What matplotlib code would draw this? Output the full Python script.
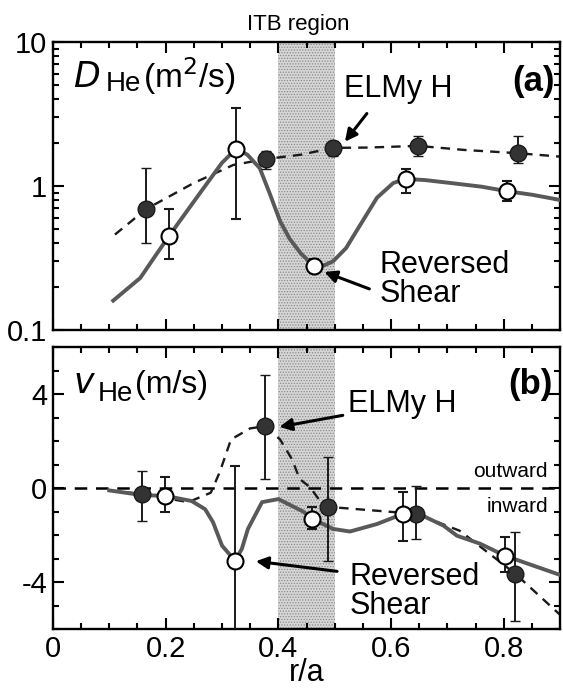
import matplotlib
matplotlib.use("Agg")
import matplotlib.pyplot as plt
from matplotlib.ticker import MultipleLocator, LogLocator, NullFormatter

plt.rcParams['font.family'] = ['Liberation Sans', 'DejaVu Sans']
plt.rcParams['hatch.linewidth'] = 0.6

# --- panel (a): D_He ---
d_rs_r = [0.206, 0.325, 0.463, 0.626, 0.806]
d_rs_v = [0.45, 1.81, 0.278, 1.12, 0.92]
d_rs_lo = [0.31, 0.59, 0.25, 0.89, 0.79]
d_rs_hi = [0.69, 3.48, 0.31, 1.31, 1.08]

d_el_r = [0.165, 0.378, 0.497, 0.648, 0.825]
d_el_v = [0.69, 1.54, 1.84, 1.90, 1.69]
d_el_lo = [0.40, 1.31, 1.62, 1.62, 1.44]
d_el_hi = [1.33, 1.75, 2.05, 2.22, 2.22]

d_rs_line_r = [0.107, 0.155, 0.18, 0.206, 0.255, 0.30, 0.325, 0.345, 0.367, 0.385,
               0.403, 0.42, 0.44, 0.463, 0.48, 0.497, 0.52, 0.539, 0.575, 0.604,
               0.626, 0.66, 0.705, 0.76, 0.806, 0.85, 0.9]
d_rs_line_v = [0.16, 0.23, 0.32, 0.45, 0.83, 1.45, 1.81, 1.65, 1.33, 0.88,
               0.57, 0.43, 0.34, 0.278, 0.28, 0.30, 0.37, 0.49, 0.83, 1.05,
               1.12, 1.10, 1.05, 0.99, 0.92, 0.87, 0.80]
d_el_line_r = [0.11, 0.165, 0.25, 0.32, 0.378, 0.44, 0.497, 0.56, 0.648, 0.73, 0.825, 0.9]
d_el_line_v = [0.46, 0.69, 1.05, 1.40, 1.54, 1.65, 1.84, 1.85, 1.90, 1.78, 1.69, 1.60]

# --- panel (b): v_He ---
v_rs_r = [0.199, 0.323, 0.46, 0.621, 0.802]
v_rs_v = [-0.33, -3.09, -1.31, -1.10, -2.88]
v_rs_lo = [-1.0, -7.5, -1.74, -2.25, -3.56]
v_rs_hi = [0.47, 0.93, -0.8, -0.17, -2.08]

v_el_r = [0.158, 0.376, 0.488, 0.645, 0.82]
v_el_v = [-0.25, 2.63, -0.80, -1.10, -3.64]
v_el_lo = [-1.4, 0.38, -3.1, -2.16, -5.68]
v_el_hi = [0.72, 4.83, 1.31, 0.08, -1.86]

v_rs_line_r = [0.10, 0.158, 0.199, 0.246, 0.27, 0.284, 0.30, 0.323, 0.335, 0.346,
               0.371, 0.40, 0.444, 0.46, 0.497, 0.527, 0.575, 0.621, 0.645, 0.693,
               0.717, 0.758, 0.802, 0.9]
v_rs_line_v = [-0.1, -0.3, -0.33, -0.55, -0.9, -1.45, -2.45, -3.09, -2.6, -1.74,
               -0.6, -0.47, -1.0, -1.31, -1.74, -1.85, -1.53, -1.10, -1.05, -1.6,
               -2.03, -2.37, -2.88, -3.7]
v_el_line_r = [0.10, 0.158, 0.24, 0.28, 0.296, 0.316, 0.35, 0.376, 0.403, 0.424,
               0.438, 0.456, 0.474, 0.488, 0.593, 0.645, 0.722, 0.82, 0.9]
v_el_line_v = [-0.1, -0.25, -0.6, -0.2, 0.68, 2.07, 2.54, 2.63, 2.07, 1.23,
               0.38, 0.04, -0.55, -0.80, -1.0, -1.1, -1.82, -3.64, -5.4]

itb = (0.4, 0.5)

fig = plt.figure(figsize=(5.63, 6.91), dpi=100)
ax1 = fig.add_axes([0.094, 0.5224, 0.901, 0.4168])
ax2 = fig.add_axes([0.094, 0.0897, 0.901, 0.408])


def style(ax):
    for s in ax.spines.values():
        s.set_linewidth(1.7)
    ax.tick_params(which='both', direction='in', top=True, right=True, width=1.5,
                   labelsize=21, pad=4)
    ax.tick_params(which='major', length=8)
    ax.tick_params(which='minor', length=4.5)
    ax.set_xlim(0, 0.9)
    ax.xaxis.set_major_locator(MultipleLocator(0.2))
    ax.xaxis.set_minor_locator(MultipleLocator(0.05))
    ax.axvspan(itb[0], itb[1], facecolor='#d6d6d6', edgecolor='#8a8a8a',
               hatch='......', lw=0, zorder=0)


def err(v, lo, hi):
    return [[a - b for a, b in zip(v, lo)], [b - a for a, b in zip(v, hi)]]


arrow = dict(arrowstyle='-|>', color='black', lw=2.2, mutation_scale=18)

# panel a
style(ax1)
ax1.set_yscale('log')
ax1.set_ylim(0.1, 10)
ax1.yaxis.set_minor_locator(LogLocator(base=10, subs=range(2, 10), numticks=20))
ax1.yaxis.set_minor_formatter(NullFormatter())
ax1.set_yticks([0.1, 1, 10])
ax1.set_yticklabels(['0.1', '1', '10'])
ax1.tick_params(axis='x', labelbottom=False)

ax1.plot(d_el_line_r, d_el_line_v, ls=(0, (4, 3)), color='0.1', lw=1.7, zorder=2)
ax1.plot(d_rs_line_r, d_rs_line_v, ls='-', color='0.35', lw=2.8, zorder=3)
ax1.errorbar(d_el_r, d_el_v, yerr=err(d_el_v, d_el_lo, d_el_hi), fmt='o', ms=12,
             mfc='0.2', mec='0.1', ecolor='0.1', elinewidth=1.4, capsize=3.5, zorder=4)
ax1.errorbar(d_rs_r, d_rs_v, yerr=err(d_rs_v, d_rs_lo, d_rs_hi), fmt='o', ms=11.5,
             mfc='white', mec='black', mew=1.5, ecolor='0.1', elinewidth=1.4,
             capsize=3.5, zorder=5)

ax1.text(0.035, 5.7, r'$D$', fontsize=25, va='center', ha='left')
ax1.text(0.093, 5.1, 'He', fontsize=20, va='center', ha='left')
ax1.text(0.16, 5.8, '(m$^2$/s)', fontsize=24, va='center', ha='left')
ax1.text(0.891, 5.3, '(a)', fontsize=25, fontweight='bold', va='center', ha='right')
ax1.text(0.612, 4.7, 'ELMy H', fontsize=22, ha='center', va='center')
ax1.annotate('', xy=(0.515, 1.96), xytext=(0.56, 3.3), arrowprops=arrow)
ax1.text(0.58, 0.225, 'Reversed\nShear', fontsize=22, ha='left', va='center',
         linespacing=0.95)
ax1.annotate('', xy=(0.477, 0.257), xytext=(0.566, 0.19), arrowprops=arrow)
ax1.text(0.435, 1.025, 'ITB region', transform=ax1.get_xaxis_transform(),
         fontsize=16, ha='center', va='bottom')

# panel b
style(ax2)
ax2.set_ylim(-6, 6)
ax2.set_yticks([-4, 0, 4])
ax2.set_yticklabels(['-4', '0', '4'])
ax2.yaxis.set_minor_locator(MultipleLocator(1))
ax2.set_xticks([0, 0.2, 0.4, 0.6, 0.8])
ax2.set_xticklabels(['0', '0.2', '0.4', '0.6', '0.8'])
ax2.set_xlabel('r/a', fontsize=22, labelpad=-3)

ax2.axhline(0, color='black', lw=1.8, ls=(0, (5, 3.5)), zorder=1)
ax2.plot(v_el_line_r, v_el_line_v, ls=(0, (4, 3)), color='0.1', lw=1.7, zorder=2)
ax2.plot(v_rs_line_r, v_rs_line_v, ls='-', color='0.35', lw=2.8, zorder=3)
ax2.errorbar(v_el_r, v_el_v, yerr=err(v_el_v, v_el_lo, v_el_hi), fmt='o', ms=12,
             mfc='0.2', mec='0.1', ecolor='0.1', elinewidth=1.4, capsize=3.5, zorder=4)
ax2.errorbar(v_rs_r, v_rs_v, yerr=err(v_rs_v, v_rs_lo, v_rs_hi), fmt='o', ms=11.5,
             mfc='white', mec='black', mew=1.5, ecolor='0.1', elinewidth=1.4,
             capsize=3.5, zorder=5)

ax2.text(0.035, 4.45, r'$v$', fontsize=25, va='center', ha='left')
ax2.text(0.08, 4.0, 'He', fontsize=20, va='center', ha='left')
ax2.text(0.145, 4.4, '(m/s)', fontsize=23, va='center', ha='left')
ax2.text(0.886, 4.4, '(b)', fontsize=25, fontweight='bold', va='center', ha='right')
ax2.annotate('ELMy H', xy=(0.397, 2.58), xytext=(0.524, 3.56), fontsize=22,
             ha='left', va='center', arrowprops=dict(arrow, shrinkA=2))
ax2.text(0.527, -4.4, 'Reversed\nShear', fontsize=22, ha='left', va='center',
         linespacing=0.95)
ax2.annotate('', xy=(0.355, -3.1), xytext=(0.509, -3.56), arrowprops=arrow)
ax2.text(0.878, 0.72, 'outward', fontsize=15, ha='right', va='center')
ax2.text(0.878, -0.8, 'inward', fontsize=15, ha='right', va='center')

fig.savefig('out.png', dpi=100)
